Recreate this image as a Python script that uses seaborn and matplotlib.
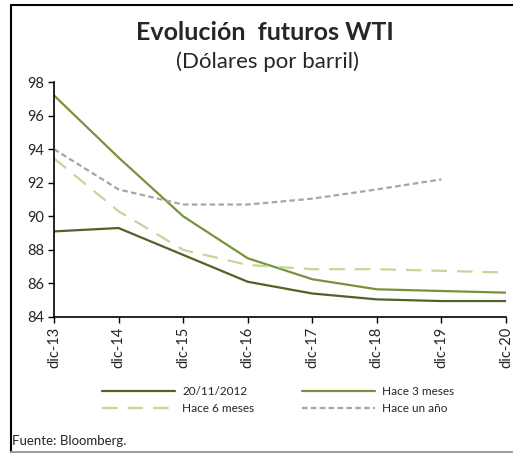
import matplotlib
matplotlib.use("Agg")
import matplotlib.pyplot as plt
import seaborn as sns
import pandas as pd
import numpy as np
from matplotlib.lines import Line2D

sns.set_style("white")
plt.rcParams['font.family'] = ['Lato', 'DejaVu Sans']

categories = ["dic-13", "dic-14", "dic-15", "dic-16", "dic-17", "dic-18", "dic-19", "dic-20"]
s_actual = [89.1, 89.3, 87.7, 86.1, 85.4, 85.05, 84.95, 84.95]
s_3m = [97.2, 93.5, 90.0, 87.5, 86.25, 85.65, 85.55, 85.45]
s_6m = [93.45, 90.3, 88.0, 87.1, 86.85, 86.85, 86.75, 86.65]
s_1y = [94.0, 91.6, 90.7, 90.7, 91.05, 91.6, 92.2, np.nan]

series_names = ["20/11/2012", "Hace 3 meses", "Hace 6 meses", "Hace un año"]
series_vals = [s_actual, s_3m, s_6m, s_1y]
colors = ["#4F6228", "#77933C", "#C3D69B", "#A6A6A6"]
dashes = [None, None, (7, 4.5), (2.5, 1.5)]

fig = plt.figure(figsize=(5.13, 4.53), dpi=100)
ax = fig.add_axes([54/513, 1-317/453, (506-54)/513, (317-82)/453])

x_pos = np.arange(len(categories))
handles = []
for name, vals, c, d in zip(series_names, series_vals, colors, dashes):
    df = pd.DataFrame({"x": x_pos, "y": vals}).dropna()
    sns.lineplot(data=df, x="x", y="y", ax=ax, color=c, linewidth=1.6, legend=False)
    ln = ax.lines[-1]
    if d is not None:
        ln.set_dashes(d)
    h = Line2D([0], [0], color=c, linewidth=1.6)
    if d is not None:
        h.set_dashes(d)
    handles.append(h)

ax.set_xlim(0, len(categories)-1)
ax.set_ylim(84, 98)
ax.set_yticks(np.arange(84, 99, 2))
ax.set_yticklabels([str(v) for v in range(84, 99, 2)], fontsize=10.5)
ax.set_xticks(x_pos)
ax.set_xticklabels(categories, rotation=90, fontsize=10.5)
ax.set_xlabel("")
ax.set_ylabel("")
for s in ["top", "right"]:
    ax.spines[s].set_visible(False)
for s in ["left", "bottom"]:
    ax.spines[s].set_color("black")
    ax.spines[s].set_linewidth(1.2)
ax.tick_params(axis="both", which="both", direction="out", length=4, width=1, color="black", pad=3)
ax.tick_params(left=True, bottom=True)
ax.grid(False)

fig.text(265/513, 1-33/453, "Evolución  futuros WTI", ha="center", va="center",
         fontsize=18, fontweight="bold")
fig.text(268/513, 1-62/453, "(Dólares por barril)", ha="center", va="center", fontsize=16)

order = [0, 2, 1, 3]
leg = fig.legend([handles[i] for i in order], [series_names[i] for i in order],
                 ncol=2, loc="center", bbox_to_anchor=(278/513, 1-400/453),
                 frameon=False, fontsize=8.5, handlelength=6.2, handletextpad=0.6,
                 columnspacing=4.0, labelspacing=0.45)

fig.text(12/513, 1-441/453, "Fuente: Bloomberg.", ha="left", va="center", fontsize=9.5)

# outer frame
fig.add_artist(Line2D([10.5/513, 10.5/513], [0, 1-5/453], transform=fig.transFigure,
                      color="black", linewidth=1.5))
fig.add_artist(Line2D([10.5/513, 1], [1-5/453, 1-5/453], transform=fig.transFigure,
                      color="black", linewidth=1.5))
fig.add_artist(Line2D([10.5/513, 1], [1/453, 1/453], transform=fig.transFigure,
                      color="#A0A0A0", linewidth=1.5))

fig.savefig("out.png", dpi=100)
